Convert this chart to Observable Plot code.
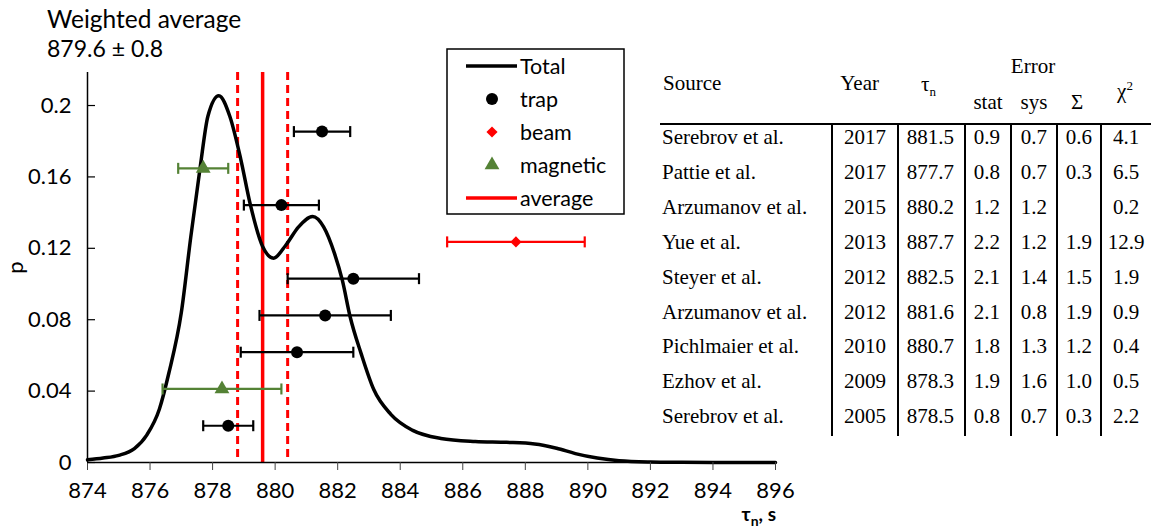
<!DOCTYPE html>
<html><head><meta charset="utf-8">
<script src="https://cdn.jsdelivr.net/npm/d3@7"></script>
<script src="https://cdn.jsdelivr.net/npm/@observablehq/plot@0.6"></script>
<style>
body{margin:0;background:#fff;}
#wrap{position:relative;width:1151px;height:529px;overflow:hidden;font-family:Lato,"Open Sans",sans-serif;color:#000;}
.abs{position:absolute;white-space:nowrap;line-height:1;}
.tbl{font-family:"Liberation Serif","Times New Roman",serif;font-size:21px;}
.vl{position:absolute;background:#000;}
</style></head><body><div id="wrap"></div>
<script>
// ---- data ----
const sources = ["Serebrov et al.","Pattie et al.","Arzumanov et al.","Yue et al.","Steyer et al.","Arzumanov et al.","Pichlmaier et al.","Ezhov et al.","Serebrov et al."];
const years = [2017,2017,2015,2013,2012,2012,2010,2009,2005];
const tau = [881.5,877.7,880.2,887.7,882.5,881.6,880.7,878.3,878.5];
const stat = [0.9,0.8,1.2,2.2,2.1,2.1,1.8,1.9,0.8];
const sys = [0.7,0.7,1.2,1.2,1.4,0.8,1.3,1.6,0.7];
const sigma = ["0.6","0.3","","1.9","1.5","1.9","1.2","1.0","0.3"];
const chi2 = ["4.1","6.5","0.2","12.9","1.9","0.9","0.4","0.5","2.2"];
const method = ["trap","magnetic","trap","beam","trap","trap","trap","magnetic","trap"];
const pos = [0.1854,0.1648,0.1442,0.1236,0.1030,0.0824,0.0618,0.0412,0.0206];
const avg = 879.6, avgErr = 0.8;
const curveT = [874.0,874.5,875.0,875.5,875.9,876.3,876.6,877.0,877.3,877.6,877.85,878.2,878.55,878.9,879.2,879.6,879.95,880.35,880.75,881.2,881.55,881.9,882.15,882.4,882.75,883.15,883.7,884.4,885.3,886.4,887.4,888.3,889.0,889.6,890.3,891.0,892.0,893.0,894.0,896.0];
const curveP = [0.0015,0.0025,0.0040,0.0078,0.0155,0.030,0.050,0.084,0.126,0.165,0.194,0.2055,0.194,0.170,0.145,0.121,0.1145,0.122,0.132,0.1378,0.132,0.117,0.102,0.0815,0.061,0.041,0.027,0.018,0.0135,0.0118,0.0113,0.0104,0.0080,0.0050,0.0025,0.0010,0.0003,0.0001,0.0,0.0];
const xTicks = [874,876,878,880,882,884,886,888,890,892,894,896];
const yTicks = [0,0.04,0.08,0.12,0.16,0.2];
const methods = ["trap","beam","magnetic"];
const methodColors = ["#000000","#ff0000","#548235"];

// ---- build ----
const rows = sources.map((s,i)=>({source:s,year:years[i],tau:tau[i],stat:stat[i],method:method[i],pos:pos[i]}));
const curve = curveT.map((t,i)=>({t,p:curveP[i]}));
const capSymbol = {draw(ctx,size){const r=Math.sqrt(size/Math.PI);ctx.moveTo(0,-r);ctx.lineTo(0,r);}};
const symOf = {trap:"circle",beam:"diamond2",magnetic:"triangle"};
const rOf = {trap:6,beam:5,magnetic:5.5};

const W=1151,H=529;
const chart = Plot.plot({
  width:W,height:H,marginLeft:87,marginRight:376,marginTop:72,marginBottom:67,
  style:{fontFamily:"Lato, 'Open Sans', sans-serif",fontSize:"22px",color:"#000",background:"transparent",overflow:"visible"},
  x:{domain:[874,896]},
  y:{domain:[0,0.2185]},
  color:{domain:methods,range:methodColors},
  marks:[
    Plot.ruleX([avg-avgErr,avg+avgErr],{stroke:"#ff0000",strokeWidth:3,strokeDasharray:"8,5"}),
    Plot.ruleX([avg],{stroke:"#ff0000",strokeWidth:3.5}),
    Plot.line(curve,{x:"t",y:"p",curve:"monotone-x",stroke:"#000",strokeWidth:3.5}),
    Plot.link(rows,{x1:d=>d.tau-d.stat,x2:d=>d.tau+d.stat,y1:"pos",y2:"pos",stroke:"method",strokeWidth:2.2}),
    Plot.dot(rows,{x:d=>d.tau-d.stat,y:"pos",symbol:capSymbol,r:5.5,fill:"none",stroke:"method",strokeWidth:2.2}),
    Plot.dot(rows,{x:d=>d.tau+d.stat,y:"pos",symbol:capSymbol,r:5.5,fill:"none",stroke:"method",strokeWidth:2.2}),
    ...methods.map(m=>Plot.dot(rows.filter(d=>d.method===m),{x:"tau",y:"pos",symbol:symOf[m],r:rOf[m],fill:"method",stroke:"none"})),
    Plot.ruleX([874],{stroke:"#000",strokeWidth:1.5}),
    Plot.ruleY([0],{stroke:"#000",strokeWidth:1.5}),
    Plot.axisX({ticks:xTicks,tickSize:8,tickPadding:12,label:null,tickFormat:d=>String(d),stroke:"#444"}),
    Plot.axisY({ticks:yTicks,tickSize:0,tickPadding:16,tickFormat:d=>String(+d.toFixed(2)),label:"p",labelAnchor:"center",labelArrow:"none",labelOffset:80}),
    Plot.tickY(yTicks,{y:d=>d,insetRight:680,stroke:"#000",strokeWidth:1.2})
  ]
});
const wrap = document.getElementById("wrap");
chart.style.position="absolute";chart.style.left="0";chart.style.top="0";
wrap.appendChild(chart);

function place(html,x,y,anchor,cls,extra){
  const d=document.createElement("div");
  d.className="abs "+(cls||"");
  d.innerHTML=html;
  d.style.left=x+"px";d.style.top=y+"px";
  const tx = anchor==="end"?"-100%":anchor==="middle"?"-50%":"0";
  d.style.transform=`translate(${tx},-50%)`;
  if(extra) Object.assign(d.style,extra);
  wrap.appendChild(d);
  return d;
}
// title
place("Weighted average",47,19,"start","",{fontSize:"24.5px"});
place(`${avg} ± ${avgErr}`,47,48,"start","",{fontSize:"23px"});
// x label
place("τ<sub style='font-size:14px'>n</sub>, s",776,516,"end","",{fontSize:"19px",fontWeight:"bold"});

// legend
const lg=document.createElementNS("http://www.w3.org/2000/svg","svg");
lg.setAttribute("width",180);lg.setAttribute("height",168);
lg.style.position="absolute";lg.style.left="446px";lg.style.top="48px";
const lsel=d3.select(lg);
lsel.append("rect").attr("x",1).attr("y",1).attr("width",177).attr("height",165).attr("fill","#fff").attr("stroke","#000").attr("stroke-width",1.5);
const legItems=[["Total","line","#000"],["trap","circle","#000"],["beam","diamond2","#ff0000"],["magnetic","triangle","#548235"],["average","line","#ff0000"]];
const symMap={circle:d3.symbolCircle,diamond2:d3.symbolDiamond2,triangle:d3.symbolTriangle};
legItems.forEach(([lab,kind,col],i)=>{
  const y=18+i*33;
  if(kind==="line") lsel.append("line").attr("x1",20).attr("x2",71).attr("y1",y).attr("y2",y).attr("stroke",col).attr("stroke-width",3.5);
  else {const r=kind==="circle"?6:kind==="diamond2"?5:5.5;
    lsel.append("path").attr("d",d3.symbol(symMap[kind],Math.PI*r*r)()).attr("transform",`translate(46,${y})`).attr("fill",col);}
  lsel.append("text").attr("x",74).attr("y",y).attr("dy","0.35em").attr("font-size",21.5).attr("font-family","Lato, sans-serif").text(lab);
});
wrap.appendChild(lg);

// table
const colRight=[null,886,954,1000,1047,1092];
const chiCenter=1126;
place("Source",663,83,"start","tbl");
place("Year",879,83,"end","tbl");
place("τ<sub style='font-size:13px'>n</sub>",921,86,"start","tbl");
place("Error",1033,66,"middle","tbl");
place("stat",988,102,"middle","tbl");
place("sys",1034,102,"middle","tbl");
place("Σ",1077,102,"middle","tbl");
place("χ<sup style='font-size:13px'>2</sup>",1125,90,"middle","tbl");
const hr=document.createElement("div");hr.className="vl";
Object.assign(hr.style,{left:"660px",top:"123px",width:"491px",height:"2px"});wrap.appendChild(hr);
[832,898,965,1011,1057,1101].forEach(x=>{const v=document.createElement("div");v.className="vl";
  Object.assign(v.style,{left:(x-1)+"px",top:"124px",width:"2px",height:"312px"});wrap.appendChild(v);});
sources.forEach((s,i)=>{
  const y=137+i*34.9;
  place(s,662,y,"start","tbl");
  place(String(years[i]),colRight[1],y,"end","tbl");
  place(tau[i].toFixed(1),colRight[2],y,"end","tbl");
  place(stat[i].toFixed(1),colRight[3],y,"end","tbl");
  place(sys[i].toFixed(1),colRight[4],y,"end","tbl");
  place(sigma[i],colRight[5],y,"end","tbl");
  place(chi2[i],chiCenter,y,"middle","tbl");
});
</script></body></html>
